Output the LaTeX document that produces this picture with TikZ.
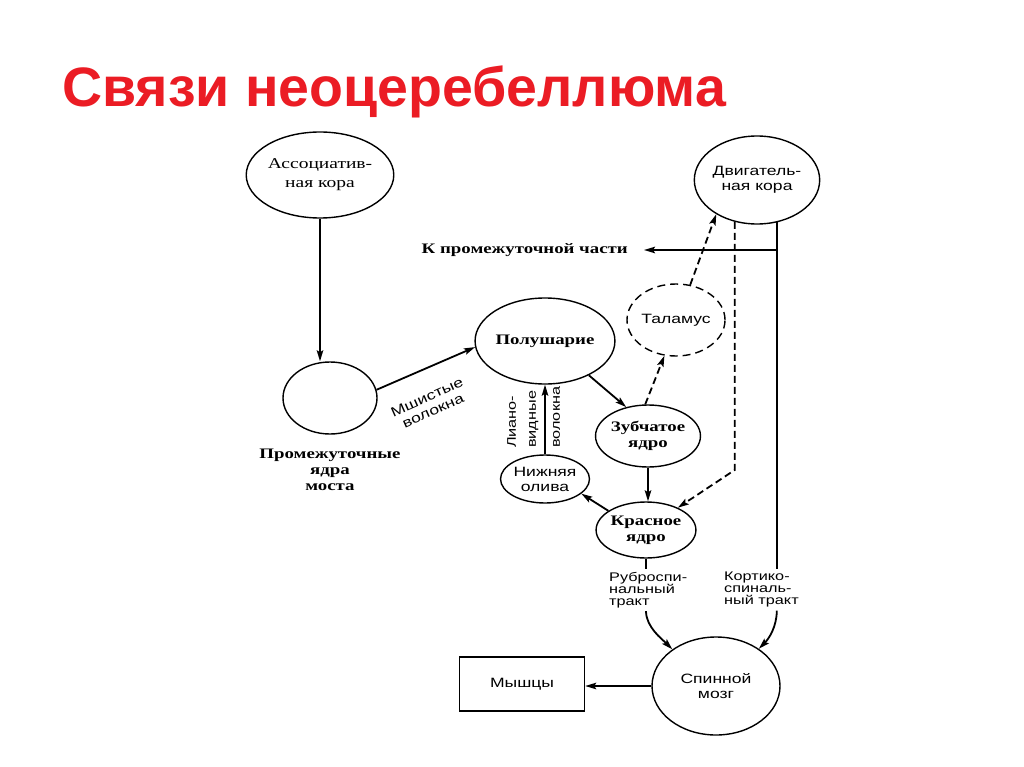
\documentclass[tikz,border=0pt]{standalone}
\usepackage{fontspec}
\setmainfont{Liberation Serif}
\newfontfamily\serifw[FakeStretch=1.3]{Liberation Serif}
\newfontfamily\sansw[FakeStretch=1.3]{Liberation Sans}
\newfontfamily\titlefont{Liberation Sans}
\usetikzlibrary{shapes.geometric,arrows.meta}
\definecolor{titlered}{RGB}{235,28,36}
\newcommand\SerR{\serifw\fontsize{15}{19}\selectfont}
\newcommand\SerB{\serifw\bfseries\fontsize{14.5}{16}\selectfont}
\newcommand\SanS{\sansw\fontsize{13.5}{15}\selectfont}
\newcommand\SanT{\sansw\fontsize{12.5}{12}\selectfont}
\newcommand\SanL{\sansw\fontsize{12.5}{20}\selectfont}
\begin{document}
\begin{tikzpicture}[x=1pt,y=-1pt,
  ell/.style={draw, ellipse, line width=1.4pt, inner sep=0pt, align=center},
  arr/.style={line width=1.8pt, -{Stealth[length=11pt,width=6.5pt,inset=2pt]}},
  plain/.style={line width=1.8pt},
  dasharr/.style={arr, dash pattern=on 7pt off 4pt},
  txt/.style={inner sep=2pt, align=center},
  serR/.style={font=\SerR},
  serB/.style={font=\SerB},
  sanS/.style={font=\SanS},
  sanT/.style={font=\SanT},
  sanL/.style={font=\SanL}
]
\useasboundingbox (0,0) rectangle (1024,767);
\fill[white] (0,0) rectangle (1024,767);

\node[anchor=base west, inner sep=0pt, text=titlered, font={\titlefont\bfseries\fontsize{55.5}{60}\selectfont}] (title) at (62,107) {Связи неоцеребеллюма};

\node[ell, serR, minimum width=124, minimum height=86] (assoc) at (320,175) {Ассоциатив-\\ная кора};
\node[ell, minimum width=94, minimum height=72] (pons) at (330,398) {};
\node[txt, serB] (ponslbl) at (330,470) {Промежуточные\\ядра\\моста};
\node[ell, serB, minimum width=124, minimum height=86] (hemi) at (545,341) {Полушарие};
\node[ell, sanS, dash pattern=on 8pt off 5pt, minimum width=92, minimum height=72] (thal) at (676,320) {Таламус};
\node[ell, sanS, minimum width=120, minimum height=88] (motor) at (757,180) {Двигатель-\\ная кора};
\node[ell, serB, minimum width=90, minimum height=62] (dent) at (648,436) {Зубчатое\\ядро};
\node[ell, serB, minimum width=76, minimum height=56] (red) at (646,530) {Красное\\ядро};
\node[ell, sanS, minimum width=74, minimum height=48] (olive) at (545,479) {Нижняя\\олива};
\node[ell, sanS, minimum width=128, minimum height=98] (spinal) at (716,686) {Спинной\\мозг};
\node[draw, sanS, line width=1.4pt, minimum width=125, minimum height=54] (muscles) at (522,684) {Мышцы};

\node[txt, serB, anchor=east] (interm) at (630,250) {К промежуточной части};
\node[sanT, inner sep=3pt, align=left, anchor=north west] (rubro) at (606,569) {Руброспи-\\нальный\\тракт};
\node[sanT, inner sep=3pt, align=left, anchor=north west] (cst) at (721,569) {Кортико-\\спиналь-\\ный тракт};

\node[txt, sanS, rotate=24] (mossy) at (430,404) {Мшистые\\волокна};
\node[sanL, inner sep=1pt, align=left, rotate=90, anchor=north west] (liana) at (506,449) {Лиано-\\видные};
\node[sanL, inner sep=1pt, align=left, rotate=90, anchor=north west] (liana2) at (552,449) {волокна};

\coordinate (bend) at (0,470);

% connectors
\draw[arr] (assoc.south) -- (assoc.south |- pons.north);
\draw[arr] (pons.10) -- (hemi.185);
\draw[arr] (hemi.-38) -- (dent.127);
\draw[dasharr] (dent.95) -- (thal.-108);
\draw[dasharr] (thal.68) -- (motor.-140);
\draw[dasharr] (motor.-118) -- (motor.-118 |- bend) -- (red.35);
\draw[plain] (motor.-65) -- (motor.-65 |- cst.north);
\draw[arr] (motor.-65 |- interm.east) -- ([xshift=14pt]interm.east);
\draw[arr] (motor.-65 |- cst.south) .. controls +(0,16) and +(10,-10) .. (spinal.41);
\draw[arr] (dent.south) -- (dent.south |- red.north);
\draw[arr] (red.153) -- (olive.-22);
\draw[arr] (olive.north) -- (olive.north |- hemi.south);
\draw[plain] (red.south) -- (red.south |- rubro.north);
\draw[arr] (red.south |- rubro.south) .. controls +(0,16) and +(-10,-10) .. (spinal.140);
\draw[arr] (spinal.west) -- (spinal.west -| muscles.east);
\end{tikzpicture}
\end{document}
